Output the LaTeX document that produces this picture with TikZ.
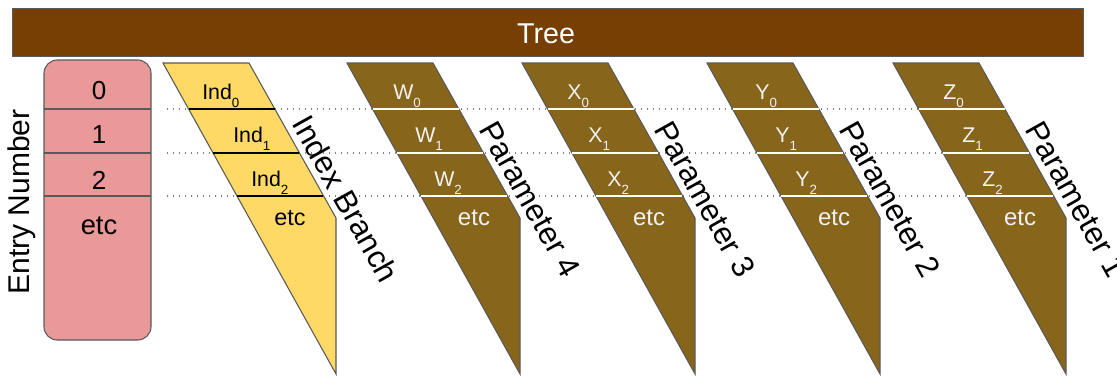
\documentclass[tikz,border=0pt]{standalone}
\usepackage{fontspec}
\setmainfont{Liberation Sans}
\definecolor{treebrown}{HTML}{783F04}
\definecolor{parbrown}{HTML}{87651A}
\definecolor{idxyellow}{HTML}{FFD966}
\definecolor{entrypink}{HTML}{EA9999}
\definecolor{edgegrey}{HTML}{595959}
\definecolor{dotgrey}{HTML}{808080}
\newcommand\subidx[1]{\raisebox{-6pt}{\fontsize{10}{10}\selectfont #1}}
\tikzset{
  edge/.style={draw=edgegrey, line width=0.8pt},
  dotline/.style={draw=dotgrey, line width=1pt, dash pattern=on 1.1pt off 3.4pt},
  celltext/.style={inner sep=0pt, font=\fontsize{16}{16}\selectfont},
  branchtext/.style={rotate=-60.7, inner sep=0pt, font=\fontsize{23.5}{24}\selectfont},
  entrytext/.style={inner sep=0pt, font=\fontsize{19.5}{20}\selectfont},
}
\begin{document}
\begin{tikzpicture}[x=0.75pt, y=-0.75pt]
\useasboundingbox (0,0) rectangle (1117,375);

% dotted guide lines (behind everything)
\foreach \yy/\i in {109/0,153/1,196/2}{
  \coordinate (dotL\i) at (167,\yy);
  \coordinate (dotR\i) at ({893+0.558*(\yy-63)},\yy);
  \draw[dotline] (dotL\i) -- (dotR\i);
}

% Tree bar
\node[edge, fill=treebrown, minimum width=1071*0.75pt, minimum height=48*0.75pt,
      anchor=north west, inner sep=0pt] (tree) at (12,8) {};
\node[text=white, font=\fontsize{21.5}{22}\selectfont, inner sep=0pt] (treetxt) at (546,34) {Tree};

% Entry number box
\draw[edge, fill=entrypink, rounded corners=10pt] (44,60) rectangle (151,340);
\node[inner sep=0pt, minimum width=107*0.75pt, minimum height=280*0.75pt, anchor=north west] (entry) at (44,60) {};
\foreach \yy in {109,153,196}{
  \draw[edge] (44,\yy) -- (151,\yy);
}
\node[entrytext] (e0) at (99,91) {0};
\node[entrytext] (e1) at (99,135) {1};
\node[entrytext] (e2) at (99,180) {2};
\node[inner sep=0pt, font=\fontsize{20.5}{20}\selectfont] (e3) at (99,226) {etc};
\node[rotate=90, inner sep=0pt, font=\fontsize{22.5}{24}\selectfont] (entrylabel) at (22,202) {Entry Number};

% Branches
\foreach \x/\n/\fc/\dc/\tc/\L/\P/\a/\b/\c/\es in {
  163/ind/idxyellow/black/black/Ind/Index Branch/39/70/88/17.5,
  347/w/parbrown/white/white!95!black/W/Parameter 4/46/68/87/18,
  522/xp/parbrown/white/white!95!black/X/Parameter 3/45/66/85/18,
  707/yp/parbrown/white/white!95!black/Y/Parameter 2/48/68/88/18,
  893/zp/parbrown/white/white!95!black/Z/Parameter 1/50/69/89/18}{
  \draw[edge, fill=\fc] (\x,63) -- (\x+86,63) -- (\x+173,218) -- (\x+173,374) -- cycle;
  \foreach \yy/\i in {109/0,153/1,196/2}{
    \draw[draw=\dc, line width=1.8pt] ({\x+0.558*(\yy-63)},\yy) -- ++(86,0);
  }
  \node[celltext, text=\tc, anchor=base west] (\n0) at (\x+\a,99) {\L\subidx{0}};
  \node[celltext, text=\tc, anchor=base west] (\n1) at (\x+\b,142) {\L\subidx{1}};
  \node[celltext, text=\tc, anchor=base west] (\n2) at (\x+\c,186) {\L\subidx{2}};
  \node[inner sep=0pt, text=\tc, anchor=base, font=\fontsize{\es}{\es}\selectfont] (\n3) at (\x+127,225) {etc};
  \node[branchtext] (\n lab) at (\x+183,199) {\P};
}
\end{tikzpicture}
\end{document}
